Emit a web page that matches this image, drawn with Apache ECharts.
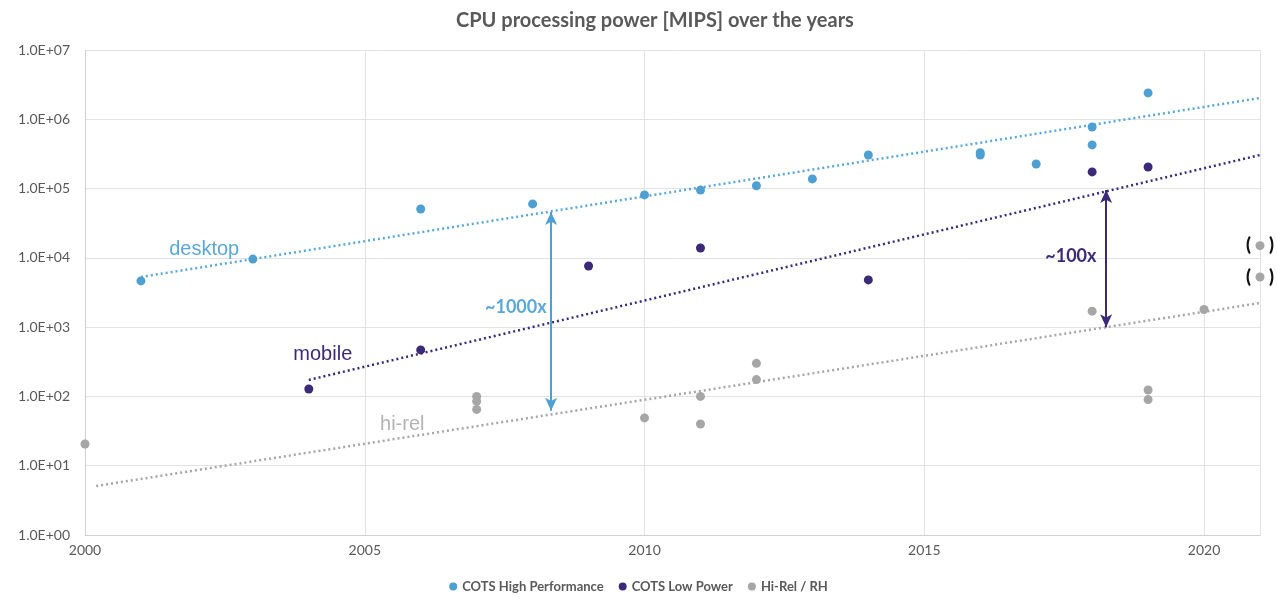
<!DOCTYPE html>
<html>
<head>
<meta charset="utf-8">
<script src="https://cdn.jsdelivr.net/npm/echarts@6/dist/echarts.min.js"></script>
<style>
html,body{margin:0;padding:0;background:#fff;}
#c{width:1277px;height:599px;}
</style>
</head>
<body>
<div id="c"></div>
<script>
// ---- data ----
var title = 'CPU processing power [MIPS] over the years';
var seriesNames = ['COTS High Performance', 'COTS Low Power', 'Hi-Rel / RH'];
var yTickLabels = ['1.0E+00','1.0E+01','1.0E+02','1.0E+03','1.0E+04','1.0E+05','1.0E+06','1.0E+07'];

var hpYears  = [2001, 2003, 2006, 2008, 2010, 2011, 2012, 2013, 2014, 2016, 2016, 2017, 2018, 2018, 2019];
var hpValues = [4650, 9600, 50800, 60000, 81000, 95000, 110000, 138000, 305000, 330000, 305000, 226000, 775000, 427000, 2400000];

var lpYears  = [2004, 2006, 2009, 2011, 2014, 2018, 2019];
var lpValues = [128, 469, 7640, 13900, 4800, 174000, 205000];

var hrYears  = [2000, 2007, 2007, 2007, 2010, 2011, 2011, 2012, 2012, 2018, 2019, 2019, 2020];
var hrValues = [20.6, 100, 85, 65, 49, 100, 40, 300, 175, 1700, 124, 90, 1800];

// uncertain (parenthesised) hi-rel points
var hrUncertainYears  = [2021, 2021];
var hrUncertainValues = [15000, 5300];

// trend line endpoints
var hpTrendYears = [2001, 2021];
var hpTrendValues = [5300, 2030000];
var lpTrendYears = [2004, 2021];
var lpTrendValues = [173, 305000];
var hrTrendYears = [2000.2, 2021];
var hrTrendValues = [5.1, 2230];

// arrows (year, from, to)
var arrowHP = [2008.33, 45900, 62];
var arrowLP = [2018.25, 95500, 1000];

// text annotations
var annYears  = [2002.13, 2004.25, 2005.67, 2007.7, 2017.62];
var annValues = [13000, 397, 38.8, 1960, 10600];
var annTexts  = ['desktop', 'mobile', 'hi-rel', '~1000x', '~100x'];

// ---- styles ----
var cHP = '#4ea0d3', cLP = '#3b2a78', cHR = '#a6a6a6';
var cHPtxt = '#5aa8da';
var calFont = 'Lato, "Open Sans", sans-serif';
var arialFont = '"Liberation Sans", Arial, sans-serif';

function pairs(xs, ys){ return xs.map(function(x,i){ return [x, ys[i]]; }); }

var annStyles = [
  {color: cHPtxt, fontSize: 20, fontFamily: arialFont},
  {color: cLP, fontSize: 20, fontFamily: arialFont},
  {color: '#b3b3b3', fontSize: 20, fontFamily: arialFont},
  {color: cHPtxt, fontSize: 18, fontWeight: 'bold', fontFamily: calFont},
  {color: cLP, fontSize: 18, fontWeight: 'bold', fontFamily: calFont}
];

var annData = annYears.map(function(x, i){
  return {
    value: [x, annValues[i]],
    label: Object.assign({show: true, position: 'inside', formatter: annTexts[i]}, annStyles[i])
  };
});

var chart = echarts.init(document.getElementById('c'), null, {renderer: 'canvas'});

function arrowLine(a, color){
  return {
    silent: true,
    symbol: ['arrow', 'arrow'],
    symbolSize: [9, 13],
    label: {show: false},
    lineStyle: {color: color, width: 2, type: 'solid', opacity: 1},
    data: [[{coord: [a[0], a[1]]}, {coord: [a[0], a[2]]}]]
  };
}

var option = {
  animation: false,
  backgroundColor: '#ffffff',
  title: {
    text: title,
    left: 451,
    top: 6,
    textStyle: {color: '#595959', fontSize: 20, fontWeight: 'bold', fontFamily: calFont}
  },
  legend: {
    data: seriesNames,
    bottom: 1,
    left: 'center',
    icon: 'circle',
    itemWidth: 8,
    itemHeight: 8,
    itemGap: 15,
    textStyle: {color: '#595959', fontSize: 13, fontWeight: 'bold', fontFamily: calFont}
  },
  grid: {left: 85, right: 17, top: 50, bottom: 64, containLabel: false},
  xAxis: {
    type: 'value',
    min: 2000,
    max: 2021,
    interval: 5,
    axisLine: {show: true, lineStyle: {color: '#d0d0d0'}},
    axisTick: {show: false},
    splitLine: {show: true, lineStyle: {color: '#e2e2e2'}},
    axisLabel: {
      color: '#595959', fontSize: 14, fontFamily: calFont, margin: 8,
      formatter: function(v){ return (v % 5 === 0) ? String(v) : ''; }
    }
  },
  yAxis: {
    type: 'log',
    logBase: 10,
    min: 1,
    max: 10000000,
    axisLine: {show: true, lineStyle: {color: '#d0d0d0'}},
    axisTick: {show: false},
    splitLine: {show: true, lineStyle: {color: '#e2e2e2'}},
    axisLabel: {
      color: '#595959', fontSize: 14, fontFamily: calFont, margin: 15,
      formatter: function(v){
        var e = Math.round(Math.log10(v));
        return yTickLabels[e] || '';
      }
    }
  },
  series: [
    {
      name: 'hpTrend', type: 'line', data: pairs(hpTrendYears, hpTrendValues),
      symbol: 'none', silent: true, z: 1,
      lineStyle: {color: cHPtxt, width: 2.5, type: [2, 3]},
      markLine: arrowLine(arrowHP, cHP)
    },
    {
      name: 'lpTrend', type: 'line', data: pairs(lpTrendYears, lpTrendValues),
      symbol: 'none', silent: true, z: 1,
      lineStyle: {color: cLP, width: 2.5, type: [2, 3]},
      markLine: arrowLine(arrowLP, cLP)
    },
    {
      name: 'hrTrend', type: 'line', data: pairs(hrTrendYears, hrTrendValues),
      symbol: 'none', silent: true, z: 1,
      lineStyle: {color: cHR, width: 2.5, type: [2, 3]}
    },
    {
      name: seriesNames[0], type: 'scatter', data: pairs(hpYears, hpValues),
      symbolSize: 9, itemStyle: {color: cHP, opacity: 1}, z: 3
    },
    {
      name: seriesNames[1], type: 'scatter', data: pairs(lpYears, lpValues),
      symbolSize: 9, itemStyle: {color: cLP, opacity: 1}, z: 3
    },
    {
      name: seriesNames[2], type: 'scatter', data: pairs(hrYears, hrValues),
      symbolSize: 9, itemStyle: {color: cHR, opacity: 1}, z: 3
    },
    {
      name: 'hrUncertain', type: 'scatter', data: pairs(hrUncertainYears, hrUncertainValues),
      symbolSize: 9, itemStyle: {color: cHR, opacity: 1}, z: 3, clip: false,
      label: {
        show: true, position: 'inside', formatter: '(\u2002\u2002)',
        color: '#111111', fontSize: 18, fontWeight: 900, fontFamily: calFont
      }
    },
    {
      name: 'annotations', type: 'scatter', data: annData,
      symbolSize: 0, silent: true, z: 4, clip: false,
      itemStyle: {opacity: 1}
    }
  ]
};
chart.setOption(option);
</script>
</body>
</html>
